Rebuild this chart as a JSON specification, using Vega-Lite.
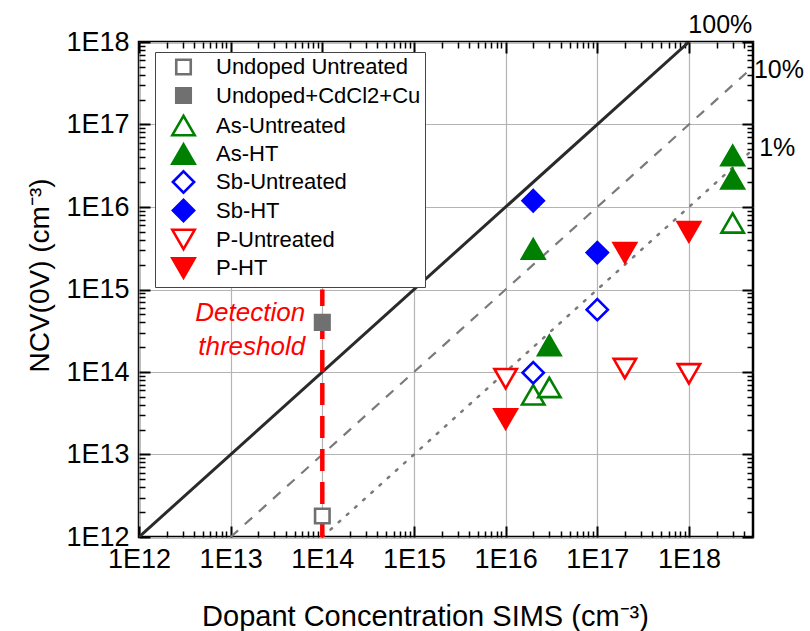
{
  "$schema": "https://vega.github.io/schema/vega-lite/v6.json",
  "width": 614,
  "height": 495,
  "autosize": {"type": "none"},
  "padding": {"left": 139, "top": 42, "right": 57, "bottom": 94},
  "background": "white",
  "config": {
    "font": "Liberation Sans",
    "view": {"stroke": "black", "strokeWidth": 2.5},
    "axis": {"labelFont": "Liberation Sans", "titleFont": "Liberation Sans", "titleFontWeight": "normal", "labelColor": "black", "titleColor": "black"}
  },
  "datasets": {
    "refs": [
      {"line": "100%", "x": 1e12, "y": 1e12},
      {"line": "100%", "x": 1e18, "y": 1e18},
      {"line": "10%", "x": 1e13, "y": 1e12},
      {"line": "10%", "x": 5e18, "y": 5e17},
      {"line": "1%", "x": 1e14, "y": 1e12},
      {"line": "1%", "x": 5e18, "y": 5e16}
    ],
    "threshold": [
      {"x": 1e14, "y": 1e12},
      {"x": 1e14, "y": 1e15}
    ],
    "labels": [
      {"text": "100%", "x": 2.2e18, "y": 1.6e18},
      {"text": "10%", "x": 9.6e18, "y": 4.6e17},
      {"text": "1%", "x": 9.2e18, "y": 5.2e16}
    ],
    "detlabels": [
      {"text": "Detection", "x": 6.5e13, "y": 5.2e14},
      {"text": "threshold", "x": 6.5e13, "y": 2.0e14}
    ],
    "points": [
      {"series": "Undoped Untreated", "x": 1e14, "y": 1.8e12},
      {"series": "Undoped+CdCl2+Cu", "x": 1e14, "y": 4e14},
      {"series": "As-Untreated", "x": 2e16, "y": 5.3e13},
      {"series": "As-Untreated", "x": 3e16, "y": 6.5e13},
      {"series": "As-Untreated", "x": 3e18, "y": 6.4e15},
      {"series": "As-HT", "x": 2e16, "y": 3.1e15},
      {"series": "As-HT", "x": 3e16, "y": 2.1e14},
      {"series": "As-HT", "x": 3e18, "y": 4.2e16},
      {"series": "As-HT", "x": 3e18, "y": 2.2e16},
      {"series": "Sb-Untreated", "x": 2e16, "y": 9.8e13},
      {"series": "Sb-Untreated", "x": 1e17, "y": 5.7e14},
      {"series": "Sb-HT", "x": 2e16, "y": 1.19e16},
      {"series": "Sb-HT", "x": 1e17, "y": 2.8e15},
      {"series": "P-Untreated", "x": 1e16, "y": 8.3e13},
      {"series": "P-Untreated", "x": 2e17, "y": 1.1e14},
      {"series": "P-Untreated", "x": 1e18, "y": 9.5e13},
      {"series": "P-HT", "x": 1e16, "y": 2.7e13},
      {"series": "P-HT", "x": 2e17, "y": 2.8e15},
      {"series": "P-HT", "x": 1e18, "y": 5.0e15}
    ]
  },
  "resolve": {"axis": {"x": "independent", "y": "independent"}},
  "layer": [
    {
      "data": {"name": "refs"},
      "transform": [{"filter": "datum.line === '100%'"}],
      "mark": {"type": "line", "color": "#2a2a2a", "strokeWidth": 3, "clip": true},
      "encoding": {
        "x": {"field": "x", "type": "quantitative",
          "scale": {"type": "log", "domain": [1e12, 5e18], "nice": false},
          "axis": {"orient": "bottom", "title": "Dopant Concentration SIMS (cm⁻³)", "titleFontSize": 29,
            "titleX": 286, "titleY": 88, "titleAlign": "center", "titleBaseline": "alphabetic", "titleAnchor": null,
            "values": [1e12, 1e13, 1e14, 1e15, 1e16, 1e17, 1e18],
            "labelExpr": "'1E' + format(log(datum.value)/LN10, '.0f')",
            "labelFontSize": 27, "labelPadding": 9, "labelFlush": false, "labelOverlap": false,
            "ticks": false,
            "grid": true, "gridColor": "#b4b4b4", "gridWidth": 1.2,
            "domain": false}},
        "y": {"field": "y", "type": "quantitative",
          "scale": {"type": "log", "domain": [1e12, 1e18], "nice": false},
          "axis": {"orient": "left", "title": "NCV(0V) (cm⁻³)", "titleFontSize": 28,
            "titleX": -99, "titleY": 233, "titleAngle": 270, "titleAlign": "center", "titleBaseline": "middle", "titleAnchor": null,
            "values": [1e12, 1e13, 1e14, 1e15, 1e16, 1e17, 1e18],
            "labelExpr": "'1E' + format(log(datum.value)/LN10, '.0f')",
            "labelFontSize": 27, "labelPadding": 10, "labelFlush": false, "labelOverlap": false,
            "ticks": false,
            "grid": true, "gridColor": "#b4b4b4", "gridWidth": 1.2,
            "domain": false}}
      }
    },
    {
      "data": {"name": "refs"},
      "transform": [{"filter": "datum.line === '10%'"}],
      "mark": {"type": "line", "color": "#7a7a7a", "strokeWidth": 2.2, "strokeDash": [10, 9], "clip": true},
      "encoding": {
        "x": {"field": "x", "type": "quantitative",
          "scale": {"type": "log", "domain": [1e12, 5e18], "nice": false},
          "axis": {"orient": "bottom", "title": null,
            "values": [1e12, 1e13, 1e14, 1e15, 1e16, 1e17, 1e18],
            "labels": false, "ticks": true, "tickSize": -11, "tickWidth": 2, "tickColor": "black", "grid": false, "domain": false}},
        "y": {"field": "y", "type": "quantitative",
          "scale": {"type": "log", "domain": [1e12, 1e18], "nice": false},
          "axis": {"orient": "left", "title": null,
            "values": [1e12, 1e13, 1e14, 1e15, 1e16, 1e17, 1e18],
            "labels": false, "ticks": true, "tickSize": -11, "tickWidth": 2, "tickColor": "black", "grid": false, "domain": false}}
      }
    },
    {
      "data": {"name": "refs"},
      "transform": [{"filter": "datum.line === '1%'"}],
      "mark": {"type": "line", "color": "#7a7a7a", "strokeWidth": 2.5, "strokeDash": [2, 9], "strokeCap": "round", "clip": true},
      "encoding": {
        "x": {"field": "x", "type": "quantitative",
          "scale": {"type": "log", "domain": [1e12, 5e18], "nice": false},
          "axis": {"orient": "bottom", "title": null,
            "values": [2e12,3e12,4e12,5e12,6e12,7e12,8e12,9e12,2e13,3e13,4e13,5e13,6e13,7e13,8e13,9e13,2e14,3e14,4e14,5e14,6e14,7e14,8e14,9e14,2e15,3e15,4e15,5e15,6e15,7e15,8e15,9e15,2e16,3e16,4e16,5e16,6e16,7e16,8e16,9e16,2e17,3e17,4e17,5e17,6e17,7e17,8e17,9e17,2e18,3e18,4e18],
            "labels": false, "ticks": true, "tickSize": -6, "tickWidth": 1.5, "tickColor": "black", "grid": false, "domain": false}},
        "y": {"field": "y", "type": "quantitative",
          "scale": {"type": "log", "domain": [1e12, 1e18], "nice": false},
          "axis": {"orient": "left", "title": null,
            "values": [2e12,3e12,4e12,5e12,6e12,7e12,8e12,9e12,2e13,3e13,4e13,5e13,6e13,7e13,8e13,9e13,2e14,3e14,4e14,5e14,6e14,7e14,8e14,9e14,2e15,3e15,4e15,5e15,6e15,7e15,8e15,9e15,2e16,3e16,4e16,5e16,6e16,7e16,8e16,9e16,2e17,3e17,4e17,5e17,6e17,7e17,8e17,9e17],
            "labels": false, "ticks": true, "tickSize": -6, "tickWidth": 1.5, "tickColor": "black", "grid": false, "domain": false}}
      }
    },
    {
      "data": {"name": "threshold"},
      "mark": {"type": "line", "color": "#ff0000", "strokeWidth": 4.5, "strokeDash": [22, 11]},
      "encoding": {
        "x": {"field": "x", "type": "quantitative",
          "scale": {"type": "log", "domain": [1e12, 5e18], "nice": false},
          "axis": {"orient": "top", "title": null,
            "values": [1e12, 1e13, 1e14, 1e15, 1e16, 1e17, 1e18],
            "labels": false, "ticks": true, "tickSize": -11, "tickWidth": 2, "tickColor": "black", "grid": false, "domain": false}},
        "y": {"field": "y", "type": "quantitative",
          "scale": {"type": "log", "domain": [1e12, 1e18], "nice": false},
          "axis": {"orient": "right", "title": null,
            "values": [1e12, 1e13, 1e14, 1e15, 1e16, 1e17, 1e18],
            "labels": false, "ticks": true, "tickSize": -11, "tickWidth": 2, "tickColor": "black", "grid": false, "domain": false}}
      }
    },
    {
      "data": {"name": "labels"},
      "mark": {"type": "text", "fontSize": 25, "font": "Liberation Sans", "color": "black", "align": "center", "baseline": "middle"},
      "encoding": {
        "x": {"field": "x", "type": "quantitative", "scale": {"type": "log", "domain": [1e12, 5e18], "nice": false},
          "axis": {"orient": "top", "title": null,
            "values": [2e12,3e12,4e12,5e12,6e12,7e12,8e12,9e12,2e13,3e13,4e13,5e13,6e13,7e13,8e13,9e13,2e14,3e14,4e14,5e14,6e14,7e14,8e14,9e14,2e15,3e15,4e15,5e15,6e15,7e15,8e15,9e15,2e16,3e16,4e16,5e16,6e16,7e16,8e16,9e16,2e17,3e17,4e17,5e17,6e17,7e17,8e17,9e17,2e18,3e18,4e18],
            "labels": false, "ticks": true, "tickSize": -6, "tickWidth": 1.5, "tickColor": "black", "grid": false, "domain": false}},
        "y": {"field": "y", "type": "quantitative", "scale": {"type": "log", "domain": [1e12, 1e18], "nice": false},
          "axis": {"orient": "right", "title": null,
            "values": [2e12,3e12,4e12,5e12,6e12,7e12,8e12,9e12,2e13,3e13,4e13,5e13,6e13,7e13,8e13,9e13,2e14,3e14,4e14,5e14,6e14,7e14,8e14,9e14,2e15,3e15,4e15,5e15,6e15,7e15,8e15,9e15,2e16,3e16,4e16,5e16,6e16,7e16,8e16,9e16,2e17,3e17,4e17,5e17,6e17,7e17,8e17,9e17],
            "labels": false, "ticks": true, "tickSize": -6, "tickWidth": 1.5, "tickColor": "black", "grid": false, "domain": false}},
        "text": {"field": "text"}
      }
    },
    {
      "data": {"name": "detlabels"},
      "mark": {"type": "text", "fontSize": 26, "font": "Liberation Sans", "fontStyle": "italic", "color": "#ff0000", "align": "right", "baseline": "middle"},
      "encoding": {
        "x": {"field": "x", "type": "quantitative", "scale": {"type": "log", "domain": [1e12, 5e18], "nice": false}, "axis": null},
        "y": {"field": "y", "type": "quantitative", "scale": {"type": "log", "domain": [1e12, 1e18], "nice": false}, "axis": null},
        "text": {"field": "text"}
      }
    },
    {
      "data": {"name": "points"},
      "mark": {"type": "point", "strokeWidth": 2.6, "opacity": 1},
      "encoding": {
        "x": {"field": "x", "type": "quantitative", "scale": {"type": "log", "domain": [1e12, 5e18], "nice": false}, "axis": null},
        "y": {"field": "y", "type": "quantitative", "scale": {"type": "log", "domain": [1e12, 1e18], "nice": false}, "axis": null},
        "shape": {"field": "series", "type": "nominal",
          "scale": {"domain": ["Undoped Untreated", "Undoped+CdCl2+Cu", "As-Untreated", "As-HT", "Sb-Untreated", "Sb-HT", "P-Untreated", "P-HT"],
            "range": ["square", "square", "triangle-up", "triangle-up", "diamond", "diamond", "triangle-down", "triangle-down"]},
          "legend": {"orient": "none", "legendX": 16, "legendY": 10, "title": null,
            "labelFont": "Liberation Sans", "labelFontSize": 22, "labelColor": "black", "labelLimit": 400,
            "strokeColor": "#444", "fillColor": "white", "padding": 4, "symbolOffset": 12,
            "rowPadding": -3.5, "gridAlign": "all", "labelOffset": 20, "symbolStrokeWidth": 2.6}},
        "stroke": {"field": "series", "type": "nominal",
          "scale": {"domain": ["Undoped Untreated", "Undoped+CdCl2+Cu", "As-Untreated", "As-HT", "Sb-Untreated", "Sb-HT", "P-Untreated", "P-HT"],
            "range": ["#707070", "#707070", "#008000", "#008000", "#0000ff", "#0000ff", "#ff0000", "#ff0000"]}},
        "fill": {"field": "series", "type": "nominal",
          "scale": {"domain": ["Undoped Untreated", "Undoped+CdCl2+Cu", "As-Untreated", "As-HT", "Sb-Untreated", "Sb-HT", "P-Untreated", "P-HT"],
            "range": ["white", "#707070", "white", "#008000", "white", "#0000ff", "white", "#ff0000"]}},
        "size": {"field": "series", "type": "nominal",
          "scale": {"type": "ordinal", "domain": ["Undoped Untreated", "Undoped+CdCl2+Cu", "As-Untreated", "As-HT", "Sb-Untreated", "Sb-HT", "P-Untreated", "P-HT"],
            "range": [210, 210, 500, 500, 450, 450, 500, 500]}}
      }
    }
  ]
}
